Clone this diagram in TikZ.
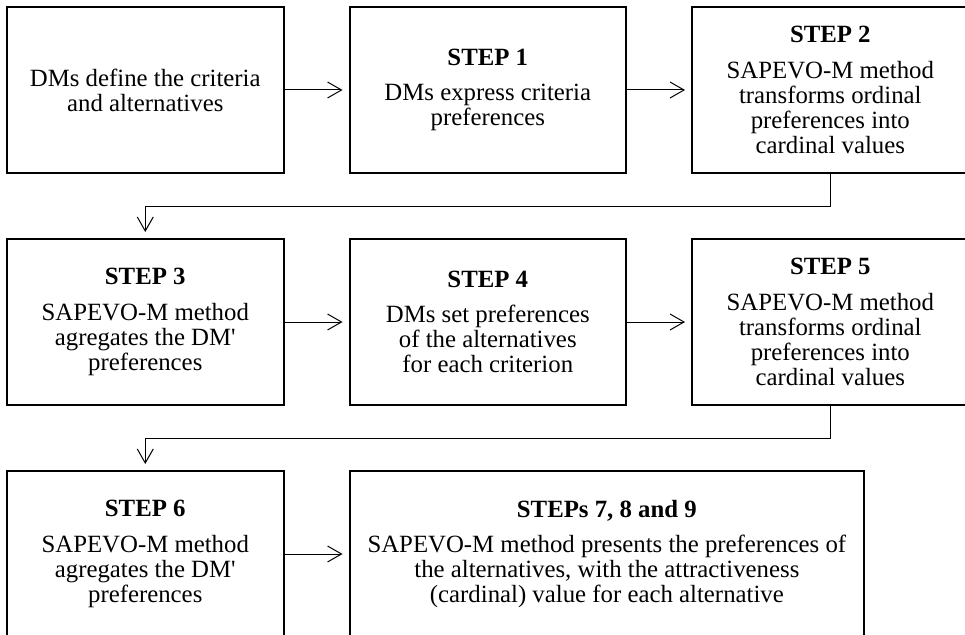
\documentclass[tikz,border=0pt]{standalone}
\usepackage{fontspec}
\setmainfont{Liberation Serif}
\newfontfamily\plainquote{Liberation Serif}[Ligatures=TeXOff]
\usetikzlibrary{arrows.meta, positioning}

\newcommand{\stephead}[1]{\textbf{#1}\\[8pt]}
\newcommand{\dmq}{DM{\plainquote'}}

\begin{document}
\begin{tikzpicture}[
    node distance=48pt and 48pt,
    stepbox/.style={rectangle, draw, line width=1.5pt, minimum height=124.5pt, minimum width=#1, align=center, font=\fontsize{18.6}{18.75}\selectfont, inner sep=2pt},
    stepbox/.default=207.4pt,
    arrow/.style={-{Straight Barb[length=10.5pt, width=12pt]}, line width=0.75pt, shorten >=4.5pt}
]
\useasboundingbox (0,0) rectangle (723.75pt,-476.25pt);

% First row
\node[stepbox] (define) at (108.94pt,-67.5pt) {DMs define the criteria\\and alternatives};
\node[stepbox, right=of define] (step1) {\stephead{STEP 1}DMs express criteria\\preferences};
\node[stepbox, right=of step1] (step2) {\stephead{STEP 2}SAPEVO-M method\\transforms ordinal\\preferences into\\cardinal values};

% Second row
\node[stepbox, below=of define] (step3) {\stephead{STEP 3}SAPEVO-M method\\agregates the \dmq\\preferences};
\node[stepbox, right=of step3] (step4) {\stephead{STEP 4}DMs set preferences\\of the alternatives\\for each criterion};
\node[stepbox, right=of step4] (step5) {\stephead{STEP 5}SAPEVO-M method\\transforms ordinal\\preferences into\\cardinal values};

% Third row
\node[stepbox, below=of step3] (step6) {\stephead{STEP 6}SAPEVO-M method\\agregates the \dmq\\preferences};
\node[stepbox=386pt, right=of step6] (final) {\stephead{STEPs 7, 8 and 9}SAPEVO-M method presents the preferences of\\the alternatives, with the attractiveness\\(cardinal) value for each alternative};

% Arrows
\draw[arrow] (define) -- (step1);
\draw[arrow] (step1) -- (step2);
\draw[arrow] (step2.south) -- ++(0,-24pt) -| (step3.north);
\draw[arrow] (step3) -- (step4);
\draw[arrow] (step4) -- (step5);
\draw[arrow] (step5.south) -- ++(0,-24pt) -| (step6.north);
\draw[arrow] (step6) -- (final);
\end{tikzpicture}
\end{document}
